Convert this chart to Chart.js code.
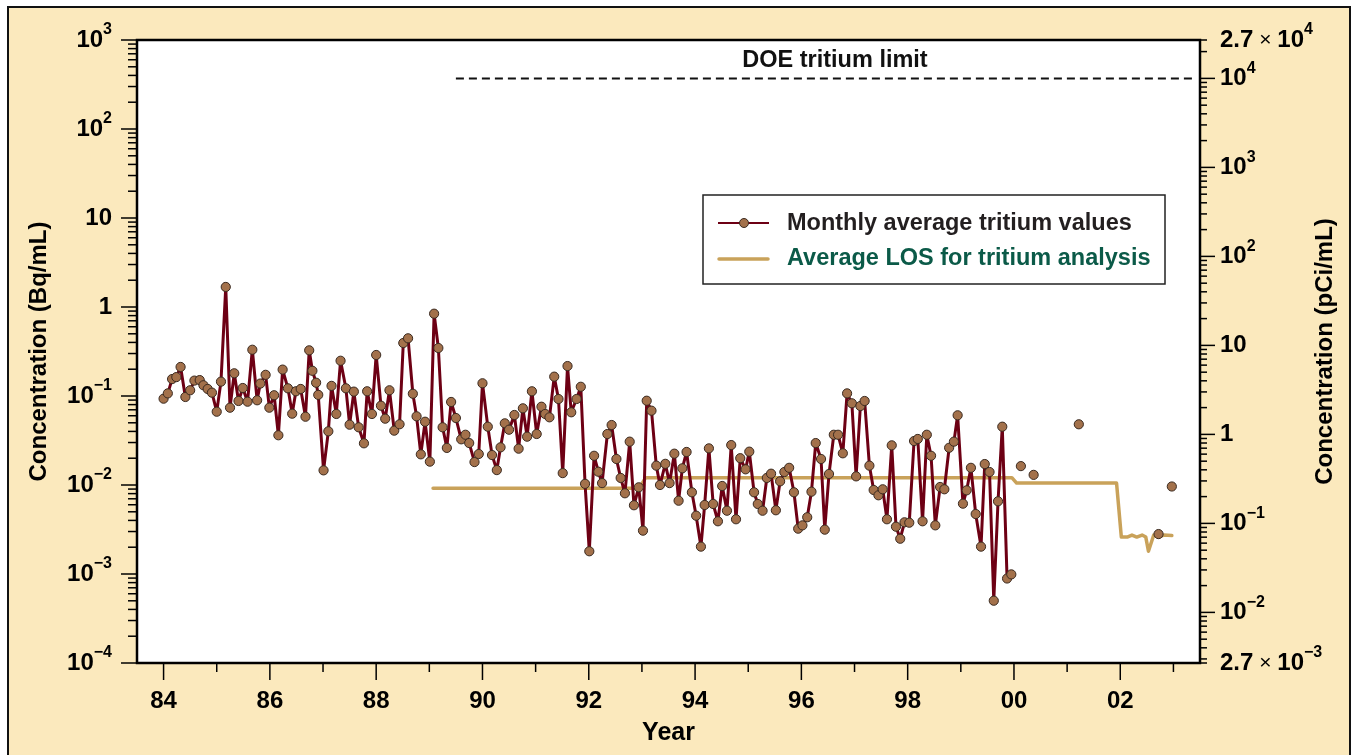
<!DOCTYPE html>
<html>
<head>
<meta charset="utf-8">
<script src="https://cdn.jsdelivr.net/npm/chart.js@4.4.0/dist/chart.umd.min.js"></script>
<style>
  html, body { margin: 0; padding: 0; background: #fff; }
  canvas { display: block; }
</style>
</head>
<body>
<canvas id="myChart" width="1353" height="755"></canvas>
<script>
// DATA ----------------------------------------------------------------------
// monthly average tritium, Bq/mL (year = 19xx, decimal)
var monthYears = [
  84.00,84.08,84.16,84.24,84.32,84.41,84.50,84.58,84.68,84.75,84.83,84.91,
  85.00,85.08,85.17,85.25,85.33,85.41,85.49,85.58,85.67,85.76,85.82,85.92,
  85.99,86.08,86.16,86.24,86.34,86.42,86.49,86.58,86.67,86.74,86.80,86.87,
  86.91,87.01,87.10,87.16,87.25,87.33,87.43,87.50,87.58,87.67,87.77,87.83,
  87.92,88.00,88.09,88.17,88.25,88.34,88.44,88.51,88.60,88.69,88.76,88.84,
  88.92,89.01,89.09,89.17,89.25,89.33,89.41,89.50,89.60,89.68,89.75,89.85,
  89.93,90.00,90.10,90.18,90.27,90.34,90.42,90.50,90.60,90.68,90.76,90.84,
  90.93,91.02,91.11,91.18,91.26,91.35,91.43,91.51,91.60,91.67,91.77,91.85,
  91.93,92.01,92.10,92.18,92.25,92.35,92.43,92.52,92.60,92.68,92.77,92.85,
  92.94,93.02,93.09,93.18,93.27,93.34,93.44,93.52,93.61,93.69,93.76,93.84,
  93.94,94.02,94.11,94.18,94.26,94.34,94.43,94.51,94.60,94.68,94.77,94.85,
  94.95,95.02,95.11,95.18,95.27,95.35,95.43,95.52,95.60,95.68,95.77,95.86,
  95.94,96.02,96.11,96.19,96.27,96.37,96.44,96.52,96.61,96.69,96.78,96.86,
  96.95,97.03,97.11,97.19,97.28,97.36,97.45,97.53,97.61,97.70,97.78,97.86,
  97.94,98.03,98.12,98.19,98.28,98.36,98.44,98.52,98.61,98.69,98.78,98.87,
  98.94,99.04,99.11,99.19,99.28,99.38,99.45,99.54,99.62,99.70,99.78,99.87,99.95
];
var monthValues = [
  0.0933,0.107,0.155,0.163,0.212,0.0975,0.116,0.149,0.151,0.132,0.120,0.109,
  0.0666,0.145,1.68,0.0739,0.180,0.0879,0.123,0.0863,0.331,0.0895,0.138,0.173,
  0.0739,0.102,0.0362,0.198,0.122,0.0633,0.113,0.120,0.0585,0.326,0.192,0.141,
  0.103,0.0146,0.0401,0.130,0.0628,0.249,0.122,0.0476,0.112,0.0445,0.0294,0.113,
  0.0628,0.289,0.0778,0.0556,0.116,0.0408,0.0481,0.394,0.445,0.106,0.0591,0.0221,
  0.0514,0.0183,0.841,0.346,0.0445,0.0261,0.0857,0.0566,0.0326,0.0367,0.0296,0.0181,
  0.0223,0.139,0.0452,0.0217,0.0147,0.0265,0.0493,0.0418,0.0612,0.0256,0.0727,0.0349,
  0.113,0.0374,0.0758,0.0628,0.0576,0.165,0.0925,0.0136,0.217,0.0656,0.0925,0.127,
  0.0103,0.0018,0.0213,0.0141,0.0105,0.0374,0.0472,0.0196,0.0120,0.00807,0.0307,0.00592,
  0.00942,0.00307,0.0885,0.0684,0.0165,0.0100,0.0173,0.0105,0.0225,0.00666,0.0154,0.0235,
  0.00828,0.00452,0.00203,0.00596,0.0258,0.00612,0.00391,0.00975,0.00514,0.0281,0.00412,0.0200,
  0.0150,0.0237,0.00828,0.00612,0.00514,0.0120,0.0134,0.0052,0.0110,0.0140,0.0156,0.00828,
  0.00323,0.00352,0.00434,0.00841,0.0296,0.0196,0.00315,0.0133,0.0367,0.0367,0.0227,0.107,
  0.0828,0.0125,0.0772,0.0879,0.0165,0.00879,0.00766,0.00895,0.00412,0.0279,0.0034,0.00249,
  0.00381,0.00377,0.0312,0.0329,0.00391,0.0367,0.0213,0.00352,0.0095,0.00895,0.0262,0.0307,
  0.0607,0.00617,0.00871,0.0156,0.00472,0.00203,0.0172,0.014,0.000501,0.00656,0.0452,0.00089,0.00099
];
// single samples after 2000 (not joined)
var singleYears  = [100.13, 100.37, 101.22, 102.72, 102.97];
var singleValues = [0.0163, 0.0130, 0.0481, 0.00281, 0.00962];

// average LOS
var losYears  = [89.07, 92.95, 93.07, 99.96, 100.05, 101.93, 102.02, 102.13, 102.22, 102.31,
                 102.41, 102.48, 102.53, 102.63, 102.72, 102.82, 102.97];
var losValues = [0.0092, 0.0092, 0.0121, 0.0121, 0.0105, 0.0105, 0.0026, 0.0026, 0.00274, 0.0026,
                 0.00274, 0.0026, 0.0018, 0.00274, 0.0026, 0.00274, 0.0027];

// DOE limit 10^4 pCi/mL
var pciPerBq = 27;
var doeYears = [89.5, 103.4];
var doeLimit = 1e4 / pciPerBq;

// axis ticks
var xTicks  = [84, 86, 88, 90, 92, 94, 96, 98, 100, 102];
var xLabels = ['84', '86', '88', '90', '92', '94', '96', '98', '00', '02'];
var leftTicks  = [1e3, 1e2, 10, 1, 0.1, 0.01, 1e-3, 1e-4];
var leftLabels = ['10^3', '10^2', '10', '1', '10^\u22121', '10^\u22122', '10^\u22123', '10^\u22124'];
var rightTicks  = [2.7e4, 1e4, 1e3, 1e2, 10, 1, 0.1, 0.01, 2.7e-3];   // pCi/mL
var rightLabels = ['2.7 \u00d7 10^4', '10^4', '10^3', '10^2', '10', '1', '10^\u22121', '10^\u22122', '2.7 \u00d7 10^\u22123'];

// STYLE ---------------------------------------------------------------------
var FONT = '"Liberation Sans", Arial, Helvetica, sans-serif';
var MAROON = '#6d0014';
var DOT = '#a3714b';
var DOT_EDGE = '#3a2a20';
var LOS = '#c9a25a';

function pairs(xs, ys) {
  return xs.map(function (x, i) { return { x: x, y: ys[i] }; });
}

function drawPow(ctx, label, x, y, align) {
  var parts = label.split('^');
  var base = parts[0], exp = parts[1];
  var segs = [];
  if (base.indexOf('\u00d7') >= 0) {
    var b = base.split('\u00d7');
    segs.push({ t: b[0].trim(), f: 'bold 24px ' + FONT, dy: 0 });
    segs.push({ t: ' \u00d7 ', f: '21px ' + FONT, dy: 0 });
    segs.push({ t: b[1].trim(), f: 'bold 24px ' + FONT, dy: 0 });
  } else {
    segs.push({ t: base, f: 'bold 24px ' + FONT, dy: 0 });
  }
  if (exp) segs.push({ t: exp, f: 'bold 16px ' + FONT, dy: -10 });
  var w = 0;
  segs.forEach(function (s) { ctx.font = s.f; s.w = ctx.measureText(s.t).width; w += s.w; });
  var cx = align === 'right' ? x - w : x;
  ctx.textAlign = 'left';
  ctx.textBaseline = 'middle';
  segs.forEach(function (s) { ctx.font = s.f; ctx.fillText(s.t, cx, y + s.dy); cx += s.w; });
}

function tick(ctx, x1, y1, x2, y2) {
  ctx.beginPath(); ctx.moveTo(x1, y1); ctx.lineTo(x2, y2); ctx.stroke();
}

// PLUGIN: page, frame, axes, legend ------------------------------------------
var figurePlugin = {
  id: 'figure',
  beforeDraw: function (chart) {
    var ctx = chart.ctx, a = chart.chartArea;
    ctx.save();
    ctx.fillStyle = '#ffffff';
    ctx.fillRect(0, 0, chart.width, chart.height);
    ctx.fillStyle = '#fbe9bd';
    ctx.fillRect(8, 7, 1342, 760);
    ctx.strokeStyle = '#111';
    ctx.lineWidth = 2;
    ctx.strokeRect(8, 7, 1342, 760);
    ctx.fillStyle = '#ffffff';
    ctx.fillRect(a.left, a.top, a.right - a.left, a.bottom - a.top);
    ctx.restore();
  },
  afterDraw: function (chart) {
    var ctx = chart.ctx, a = chart.chartArea;
    var xs = chart.scales.x, ys = chart.scales.y;
    ctx.save();
    ctx.strokeStyle = '#000';
    ctx.fillStyle = '#000';

    // plot frame
    ctx.lineWidth = 2.5;
    ctx.strokeRect(a.left, a.top, a.right - a.left, a.bottom - a.top);

    // x ticks
    ctx.lineWidth = 1.5;
    for (var yr = 84; yr <= 103; yr++) {
      var px = xs.getPixelForValue(yr);
      tick(ctx, px, a.bottom, px, a.bottom + (yr % 2 === 0 ? 17 : 9));
    }
    ctx.font = 'bold 24px ' + FONT;
    ctx.textAlign = 'center';
    ctx.textBaseline = 'middle';
    xTicks.forEach(function (v, i) { ctx.fillText(xLabels[i], xs.getPixelForValue(v), 701); });
    ctx.font = 'bold 25px ' + FONT;
    ctx.fillText('Year', (a.left + a.right) / 2, 733);

    // left ticks (Bq/mL)
    for (var k = -4; k <= 3; k++) {
      var d = Math.pow(10, k);
      var py = ys.getPixelForValue(d);
      tick(ctx, a.left, py, a.left - 16, py);
      if (k < 3) {
        for (var m = 2; m <= 9; m++) {
          var pm = ys.getPixelForValue(m * d);
          tick(ctx, a.left, pm, a.left - 9, pm);
        }
      }
    }
    leftTicks.forEach(function (v, i) { drawPow(ctx, leftLabels[i], 112, ys.getPixelForValue(v), 'right'); });

    // right ticks (pCi/mL)
    var lo = rightTicks[rightTicks.length - 1], hi = rightTicks[0];
    for (var k2 = -3; k2 <= 4; k2++) {
      var d2 = Math.pow(10, k2);
      for (var m2 = 1; m2 <= 9; m2++) {
        var v2 = m2 * d2;
        if (v2 < lo || v2 > hi) continue;
        var p2 = ys.getPixelForValue(v2 / pciPerBq);
        tick(ctx, a.right, p2, a.right + (m2 === 1 ? 15 : 7), p2);
      }
    }
    [lo, hi].forEach(function (v) {
      var pe = ys.getPixelForValue(v / pciPerBq);
      tick(ctx, a.right, pe, a.right + 7, pe);
    });
    rightTicks.forEach(function (v, i) { drawPow(ctx, rightLabels[i], 1220, ys.getPixelForValue(v / pciPerBq), 'left'); });

    // axis titles
    ctx.font = 'bold 24px ' + FONT;
    ctx.textAlign = 'center';
    ctx.textBaseline = 'middle';
    var midY = (a.top + a.bottom) / 2;
    ctx.save();
    ctx.translate(39, midY);
    ctx.rotate(-Math.PI / 2);
    ctx.fillText('Concentration (Bq/mL)', 0, 0);
    ctx.restore();
    ctx.save();
    ctx.translate(1325, midY);
    ctx.rotate(-Math.PI / 2);
    ctx.fillText('Concentration (pCi/mL)', 0, 0);
    ctx.restore();

    // DOE label
    ctx.font = 'bold 23.5px ' + FONT;
    ctx.fillStyle = '#111';
    ctx.fillText('DOE tritium limit', 835, 61);

    // legend
    var lx = 703, ly = 195, lw = 462, lh = 89;
    ctx.fillStyle = '#fff';
    ctx.fillRect(lx, ly, lw, lh);
    ctx.strokeStyle = '#222';
    ctx.lineWidth = 1.5;
    ctx.strokeRect(lx, ly, lw, lh);
    ctx.strokeStyle = MAROON;
    ctx.lineWidth = 2;
    tick(ctx, 718, 223, 769, 223);
    ctx.beginPath();
    ctx.arc(744, 223, 4.5, 0, Math.PI * 2);
    ctx.fillStyle = DOT;
    ctx.fill();
    ctx.strokeStyle = DOT_EDGE;
    ctx.lineWidth = 1;
    ctx.stroke();
    ctx.strokeStyle = LOS;
    ctx.lineWidth = 3.5;
    ctx.lineCap = 'round';
    tick(ctx, 719, 259, 768, 259);
    ctx.font = 'bold 23.5px ' + FONT;
    ctx.textAlign = 'left';
    ctx.fillStyle = '#231f20';
    ctx.fillText('Monthly average tritium values', 787, 224);
    ctx.fillStyle = '#0b5a48';
    ctx.fillText('Average LOS for tritium analysis', 787, 259);
    ctx.restore();
  }
};

// CHART ---------------------------------------------------------------------
var ctx = document.getElementById('myChart').getContext('2d');
var chart = new Chart(ctx, {
  type: 'line',
  data: {
    datasets: [{
      label: 'Monthly average tritium values',
      data: pairs(monthYears, monthValues),
      borderColor: MAROON,
      borderWidth: 3,
      borderJoinStyle: 'round',
      borderCapStyle: 'round',
      pointRadius: 4.6,
      pointBackgroundColor: DOT,
      pointBorderColor: DOT_EDGE,
      pointBorderWidth: 1
    }, {
      label: 'single values',
      data: pairs(singleYears, singleValues),
      showLine: false,
      pointRadius: 4.6,
      pointBackgroundColor: DOT,
      pointBorderColor: DOT_EDGE,
      pointBorderWidth: 1
    }, {
      label: 'Average LOS for tritium analysis',
      data: pairs(losYears, losValues),
      borderColor: LOS,
      borderWidth: 3.5,
      pointRadius: 0,
      borderCapStyle: 'round',
      borderJoinStyle: 'round'
    }, {
      label: 'DOE tritium limit',
      data: pairs(doeYears, [doeLimit, doeLimit]),
      borderColor: '#111',
      borderWidth: 2,
      borderDash: [8, 5],
      pointRadius: 0
    }]
  },
  options: {
    responsive: false,
    animation: false,
    devicePixelRatio: 1,
    layout: { padding: { left: 137, top: 40, right: 153, bottom: 92 } },
    scales: {
      x: { type: 'linear', min: 83.5, max: 103.5, display: false },
      y: { type: 'logarithmic', min: 1e-4, max: 1e3, display: false }
    },
    plugins: {
      legend: { display: false },
      tooltip: { enabled: false }
    }
  },
  plugins: [figurePlugin]
});
</script>
</body>
</html>
